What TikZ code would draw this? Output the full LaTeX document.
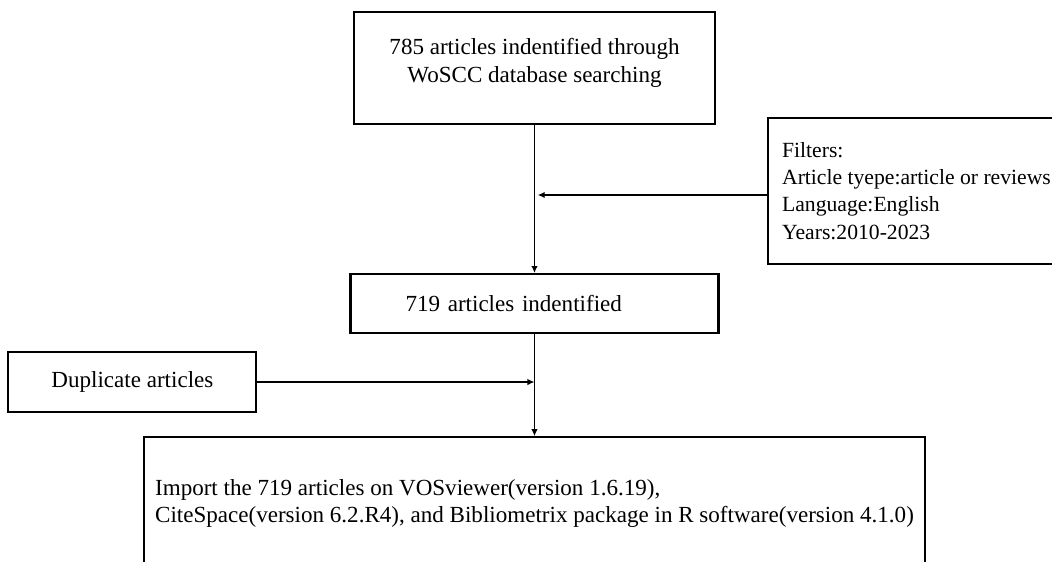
\documentclass[tikz,border=0pt]{standalone}
\usepackage{fontspec}
\setmainfont{Liberation Serif}
\usetikzlibrary{arrows.meta,positioning}

\tikzset{
  box/.style={draw, rectangle, line width=1.5pt, inner sep=0pt,
    font=\fontsize{16.4}{19.5}\selectfont},
  flow/.style={-{Latex[length=5pt,width=4.6pt]}, line width=1.3pt},
}

\begin{document}
\begin{tikzpicture}
  \clip (0,0) rectangle (26.3,-14.025);

  \node[box, align=center, minimum width=9.025cm, minimum height=2.8cm, text depth=0.39cm] (search) at (13.3625,-1.7) {785 articles indentified through\\WoSCC database searching};
  \node[box, align=left, text width=6.45cm, inner xsep=1.375cm, minimum height=1.475cm] (ident) [below=3.7cm of search] {719 articles indentified\hfill};
  \node[box, align=left, inner xsep=0.35cm, minimum height=3.65cm, anchor=north west, font=\fontsize{15.4}{19.4}\selectfont] (filters) at ([xshift=1.275cm,yshift=-2.65cm]search.north east) {Filters:\\Article tyepe:article or reviews\\Language:English\\Years:2010-2023};
  \node[box, minimum width=6.2cm, minimum height=1.5cm, anchor=north east] (dup) at ([xshift=-2.3cm,yshift=-0.42cm]ident.south west) {Duplicate articles};
  \node[box, align=left, minimum width=19.525cm, minimum height=3.3cm] (import) [below=2.55cm of ident] {Import the 719 articles on VOSviewer(version 1.6.19),\\CiteSpace(version 6.2.R4), and Bibliometrix package in R software(version 4.1.0)};

  \draw[flow] (search) -- (ident);
  \coordinate (filterjoin) at ([yshift=-0.1cm]filters.west -| search.south);
  \draw[flow] ([yshift=-0.1cm]filters.west) -- ([xshift=0.08cm]filterjoin);
  \draw[flow] (dup.east) -- (dup.east -| ident.south);
  \draw[flow] (ident) -- (import);
\end{tikzpicture}
\end{document}
